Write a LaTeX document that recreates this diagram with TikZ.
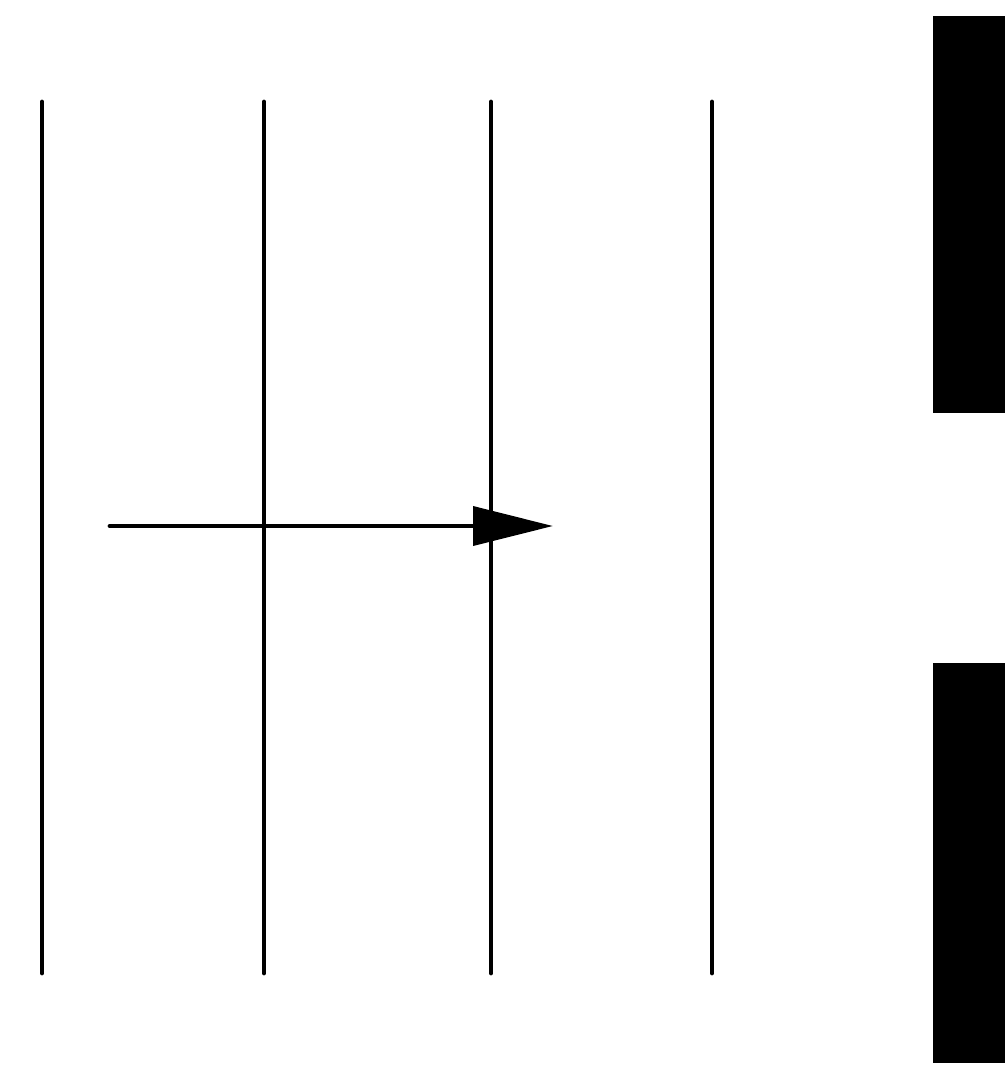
\documentclass[tikz,border=0pt]{standalone}
\usetikzlibrary{arrows.meta}
\begin{document}
\begin{tikzpicture}[x=0.75pt,y=-0.75pt,
  rail/.style={line width=3.6pt,line cap=round,black},
  shaft/.style={line width=3.6pt,line cap=round,black,-{Triangle[length=60pt,width=29pt]}},
  block/.style={fill=black,draw=none}]
\path[use as bounding box,fill=white] (0,0) rectangle (1005,1065);
\clip (0,0) rectangle (1005,1065);
\foreach \i/\x in {1/42,2/264,3/491,4/712}{
  \coordinate (t\i) at (\x,102);
  \coordinate (b\i) at (\x,973);
  \draw[rail] (t\i) -- (b\i);
}
\coordinate (as) at (110,526);
\coordinate (ae) at (553,526);
\draw[shaft] (as) -- (ae);
\fill[block] (933,16) rectangle (1010,413);
\fill[block] (933,663) rectangle (1010,1063);
\end{tikzpicture}
\end{document}
